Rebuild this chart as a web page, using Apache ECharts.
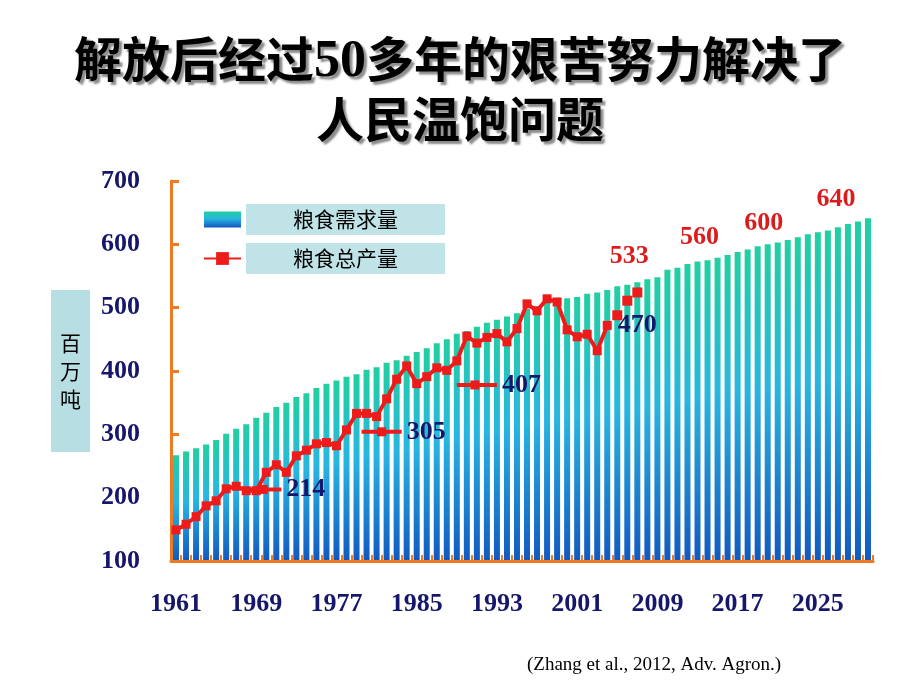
<!DOCTYPE html>
<html><head><meta charset="utf-8">
<script src="https://cdn.jsdelivr.net/npm/echarts@6.0.0/dist/echarts.min.js"></script>
<style>html,body{margin:0;padding:0;background:#fff}#c{width:920px;height:690px}</style>
</head><body><div id="c"></div>
<script>
const years = ['1961','1962','1963','1964','1965','1966','1967','1968','1969','1970',
'1971','1972','1973','1974','1975','1976','1977','1978','1979','1980',
'1981','1982','1983','1984','1985','1986','1987','1988','1989','1990',
'1991','1992','1993','1994','1995','1996','1997','1998','1999','2000',
'2001','2002','2003','2004','2005','2006','2007','2008','2009','2010',
'2011','2012','2013','2014','2015','2016','2017','2018','2019','2020',
'2021','2022','2023','2024','2025','2026','2027','2028','2029','2030'];

// 粮食需求量 (百万吨)
const demand = [267,273,278,284,291,301,309,316,326,334,
343,350,359,365,373,380,385,391,395,402,
406,413,417,424,430,436,444,450,459,463,
470,476,481,486,491,498,502,510,512,515,
517,522,524,528,534,536,540,545,548,560,
563,569,573,575,579,583,588,592,597,600,
603,607,611,616,619,622,627,632,636,641];

// 粮食总产量 (百万吨), connected line 1961-2004
const production = [149,158,170,187,195,214,218,211,211,240,
252,240,266,275,285,287,282,307,333,333,
328,356,387,408,380,391,405,401,416,455,
444,453,459,446,467,506,495,514,509,465,
454,458,432,472];

// separate points after 2004
const recentYears = ['2005','2006','2007'];
const recentValues = [488,511,524];

// red projection labels on demand bars
const redLabelYears = ['2006','2013','2020','2027'];
const redLabelTexts = ['533','560','600','640'];

// navy call-out labels: text, level drawn at, span (years)
const calloutTexts = ['214','305','407'];
const calloutLevels = [213,304,378];
const calloutSpans = [[1968,1969.7,1971.5],[1979.5,1981.5,1983.5],[1989,1990.8,1993]];
const lastPointText = '470';

const ORANGE = '#ee7b22', NAVY = '#16166c', RED = '#ee1b1b', RED_TXT = '#dc1c1c';
const redLabelStyle = [{d:16,o:2},{d:11,o:2},{d:8,o:-4},{d:15,o:-2}];

const barData = demand.map((v,i)=>{
  const k = redLabelYears.indexOf(years[i]);
  if (k < 0) return v;
  return {value:v, label:{show:true, position:'top', formatter:redLabelTexts[k],
    distance:redLabelStyle[k].d, offset:[redLabelStyle[k].o,0],
    color:RED_TXT, fontFamily:'Liberation Serif', fontWeight:'bold', fontSize:26}};
});

const lineData = years.map((y,i)=>{
  if (i >= production.length) return null;
  if (i === production.length-1) return {value:production[i], label:{show:true, position:'right', distance:6,
    formatter:lastPointText, color:NAVY, fontFamily:'Liberation Serif', fontWeight:'bold', fontSize:26}};
  return production[i];
});
const recentData = years.map(y=>{const k=recentYears.indexOf(y); return k<0?null:recentValues[k];});

const calloutSeries = calloutTexts.map((t,j)=>({
  type:'line', xAxisIndex:1, yAxisIndex:0, z:6, silent:true, showAllSymbol:true,
  symbol:'rect', symbolSize:(v,p)=>p.dataIndex===1?9:0,
  itemStyle:{color:RED, opacity:1}, lineStyle:{color:RED, width:4},
  data: calloutSpans[j].map((x,i)=> i===2 ? {value:[x,calloutLevels[j]], label:{show:true, position:'right', distance:5,
    formatter:t, color:NAVY, fontFamily:'Liberation Serif', fontWeight:'bold', fontSize:26}} : [x,calloutLevels[j]])
}));

const shadow = {textShadowColor:'rgba(0,0,0,0.45)', textShadowOffsetX:3, textShadowOffsetY:3, textShadowBlur:2};

const chart = echarts.init(document.getElementById('c'));
chart.setOption({
  animation:false,
  backgroundColor:'#fff',
  title:[{
    text:'{a|解放后经过}{b|50}{a|多年的艰苦努力解决了}\n{a|人民温饱问题}',
    left:'center', top:24,
    textStyle:{rich:{
      a:Object.assign({fontFamily:'Noto Sans CJK SC', fontWeight:'bold', fontSize:48, lineHeight:60, color:'#000'}, shadow),
      b:Object.assign({fontFamily:'Liberation Serif', fontWeight:'bold', fontSize:52, lineHeight:52, padding:[8,0,0,0], color:'#000'}, shadow)
    }}
  },{
    text:'(Zhang et al., 2012, Adv. Agron.)', left:522, top:651,
    textStyle:{fontFamily:'Liberation Serif', fontWeight:'normal', fontSize:19, color:'#000'}
  }],
  legend:{
    orient:'vertical', left:203, top:204, padding:0, itemWidth:37, itemHeight:16, itemGap:8,
    data:[{name:'粮食需求量', icon:'rect'},{name:'粮食总产量'}],
    formatter:n=>'{t|'+n+'}',
    textStyle:{rich:{t:{fontFamily:'Noto Sans CJK SC', fontSize:21, color:'#000', backgroundColor:'#bfe3e7',
      width:199, height:31, lineHeight:31, align:'center'}}}
  },
  grid:{left:171, right:47, top:181, bottom:129},
  xAxis:[{
    type:'category', data:years, z:3,
    axisLine:{lineStyle:{color:ORANGE, width:3}},
    axisTick:{show:true, inside:true, length:6, interval:0, lineStyle:{color:ORANGE, width:2}},
    axisLabel:{interval:7, margin:30, fontFamily:'Liberation Serif', fontWeight:'bold', fontSize:26, color:NAVY},
    splitLine:{show:false}
  },{
    type:'value', min:1960.5, max:2030.5, show:false
  }],
  yAxis:{
    type:'value', min:100, max:700, interval:100,
    axisLine:{show:true, lineStyle:{color:ORANGE, width:3}},
    axisTick:{show:true, inside:true, length:8, lineStyle:{color:ORANGE, width:3}},
    axisLabel:{margin:31, fontFamily:'Liberation Serif', fontWeight:'bold', fontSize:26, color:NAVY},
    splitLine:{show:false},
    name:'百\n万\n吨', nameLocation:'middle', nameRotate:0, nameGap:81,
    nameTextStyle:{fontFamily:'Noto Sans CJK SC', fontSize:21, lineHeight:28, color:'#000',
      backgroundColor:'#b7dee3', padding:[39,9,39,9]}
  },
  series:[{
    name:'粮食需求量', type:'bar', data:barData, barWidth:6, z:2,
    itemStyle:{color:new echarts.graphic.LinearGradient(0,0,0,1,[
      {offset:0,color:'#22cfa0'},{offset:0.45,color:'#28b6e0'},{offset:1,color:'#1258c0'}])}
  },{
    name:'粮食总产量', type:'line', data:lineData, z:4, showAllSymbol:true,
    symbol:'rect', symbolSize:9, connectNulls:false,
    itemStyle:{color:RED, opacity:1}, lineStyle:{color:RED, width:4}
  },{
    name:'recent', type:'scatter', data:recentData, z:4,
    symbol:'rect', symbolSize:10, itemStyle:{color:RED, opacity:1}
  }].concat(calloutSeries)
});
</script></body></html>
